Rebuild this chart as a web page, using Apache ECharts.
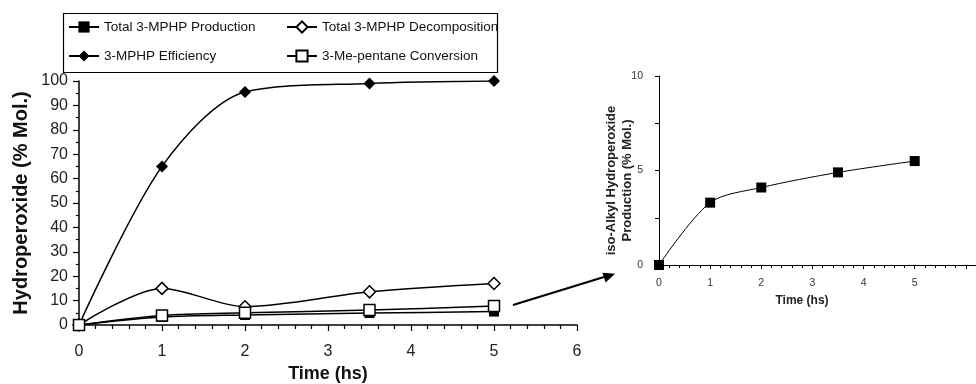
<!DOCTYPE html>
<html>
<head>
<meta charset="utf-8">
<script src="https://cdn.jsdelivr.net/npm/echarts@6/dist/echarts.min.js"></script>
<style>
  html, body { margin: 0; padding: 0; background: #fff; }
  #chart { width: 976px; height: 384px; }
</style>
</head>
<body>
<div id="chart"></div>
<script>
// time points (hs)
const times = [0, 1, 2, 3.5, 5]

// main chart series (% Mol.)
const production = [0, 3.3, 4.1, 4.9, 5.5]
const decomposition = [0, 15, 7.5, 13.6, 17]
const efficiency = [0, 65, 95.5, 99, 100]
const conversion = [0, 3.9, 5, 6.1, 7.8]

// inset: iso-alkyl hydroperoxide production
const isoProduction = [0, 3.3, 4.1, 4.9, 5.5]

const FONT = 'Liberation Sans, Arial, sans-serif'

const pairs = (ys) => times.map((t, i) => [t, ys[i]])

const chart = echarts.init(document.getElementById('chart'))

const axisCommon = {
  nameMoveOverlap: false,
  axisLine: { lineStyle: { color: '#000', width: 1.5 } },
  axisTick: { lineStyle: { color: '#000', width: 1.2 }, length: 6 },
  minorTick: { show: true, lineStyle: { color: '#000', width: 1.2 }, length: 4 },
  splitLine: { show: false },
  axisLabel: { color: '#222', fontFamily: FONT, fontSize: 16 }
}

function lineSeries(name, ys, symbol, size, filled, idx) {
  return {
    name,
    type: 'line',
    xAxisIndex: idx,
    yAxisIndex: idx,
    data: pairs(ys),
    smooth: 0.3,
    symbol,
    symbolSize: size,
    lineStyle: { color: '#000', width: 1.5 },
    itemStyle: {
      color: filled ? '#000' : '#fff',
      borderColor: '#000',
      borderWidth: filled ? 0 : 1.5
    },
    emphasis: { disabled: true },
    z: 3
  }
}

const legendCommon = {
  orient: 'vertical',
  top: 20,
  padding: 0,
  itemWidth: 30,
  itemHeight: 14,
  itemGap: 15,
  textStyle: { color: '#111', fontFamily: FONT, fontSize: 13.5 }
}

chart.setOption({
  animation: false,
  backgroundColor: '#fff',
  legend: [
    Object.assign({ left: 68, data: ['Total 3-MPHP Production', '3-MPHP Efficiency'] }, legendCommon),
    Object.assign({ left: 286, data: ['Total 3-MPHP Decomposition', '3-Me-pentane Conversion'] }, legendCommon)
  ],
  grid: [
    { left: 79, top: 81, width: 498, height: 244, outerBoundsMode: 'none' },
    { left: 659, top: 76, width: 358, height: 189, outerBoundsMode: 'none' }
  ],
  xAxis: [
    Object.assign({}, axisCommon, {
      type: 'value',
      gridIndex: 0,
      min: 0,
      max: 6,
      interval: 1,
      minorTick: Object.assign({}, axisCommon.minorTick, { splitNumber: 5 }),
      axisLabel: Object.assign({}, axisCommon.axisLabel, { margin: 19 }),
      name: 'Time (hs)',
      nameLocation: 'middle',
      nameGap: 40,
      nameTextStyle: { color: '#111', fontFamily: FONT, fontSize: 18, fontWeight: 'bold' }
    }),
    {
      type: 'value',
      gridIndex: 1,
      min: 0,
      max: 7,
      interval: 1,
      nameMoveOverlap: false,
      axisLine: { lineStyle: { color: '#000', width: 1 } },
      axisTick: { lineStyle: { color: '#000', width: 1 }, length: 4 },
      minorTick: { show: true, splitNumber: 5, lineStyle: { color: '#000', width: 1 }, length: 3 },
      splitLine: { show: false },
      axisLabel: {
        color: '#333', fontFamily: FONT, fontSize: 10.5, margin: 13,
        formatter: (v) => (v <= 5 ? String(v) : '')
      },
      name: 'Time (hs)',
      nameLocation: 'start',
      nameGap: -143,
      nameTextStyle: { color: '#222', fontFamily: FONT, fontSize: 12, fontWeight: 'bold', align: 'center', verticalAlign: 'top', padding: [30, 0, 0, 0] }
    }
  ],
  yAxis: [
    Object.assign({}, axisCommon, {
      type: 'value',
      gridIndex: 0,
      min: 0,
      max: 100,
      interval: 10,
      minorTick: Object.assign({}, axisCommon.minorTick, { splitNumber: 2, length: 3 }),
      axisLabel: Object.assign({}, axisCommon.axisLabel, { margin: 11 }),
      name: 'Hydroperoxide (% Mol.)',
      nameLocation: 'middle',
      nameGap: 48,
      nameTextStyle: { color: '#111', fontFamily: FONT, fontSize: 20, fontWeight: 'bold' }
    }),
    {
      type: 'value',
      gridIndex: 1,
      min: 0,
      max: 10,
      interval: 5,
      nameMoveOverlap: false,
      axisLine: { lineStyle: { color: '#000', width: 1 } },
      axisTick: { lineStyle: { color: '#000', width: 1 }, length: 4 },
      minorTick: { show: true, splitNumber: 2, lineStyle: { color: '#000', width: 1 }, length: 4 },
      splitLine: { show: false },
      axisLabel: { color: '#333', fontFamily: FONT, fontSize: 10.5, margin: 16 },
      name: 'iso-Alkyl Hydroperoxide\nProduction (% Mol.)',
      nameLocation: 'middle',
      nameGap: 24,
      nameTextStyle: { color: '#222', fontFamily: FONT, fontSize: 13, fontWeight: 'bold', lineHeight: 16, padding: [0, 20, 0, 0] }
    }
  ],
  graphic: [
    {
      type: 'rect',
      shape: { x: 63.5, y: 13.5, width: 434, height: 59 },
      style: { fill: 'none', stroke: '#000', lineWidth: 1.2 },
      z: 1
    },
    {
      type: 'line',
      shape: { x1: 513, y1: 305, x2: 604, y2: 277 },
      style: { stroke: '#000', lineWidth: 2 }
    },
    {
      type: 'polygon',
      shape: { points: [[615, 273.8], [602.4, 272.8], [605.6, 282.4]] },
      style: { fill: '#000' }
    }
  ],
  series: [
    lineSeries('Total 3-MPHP Production', production, 'rect', 10, true, 0),
    lineSeries('Total 3-MPHP Decomposition', decomposition, 'diamond', 12, false, 0),
    lineSeries('3-MPHP Efficiency', efficiency, 'diamond', 12, true, 0),
    lineSeries('3-Me-pentane Conversion', conversion, 'rect', 11, false, 0),
    Object.assign(lineSeries('iso-Alkyl Hydroperoxide', isoProduction, 'rect', 10, true, 1), {
      lineStyle: { color: '#000', width: 1 }
    })
  ]
})
</script>
</body>
</html>
